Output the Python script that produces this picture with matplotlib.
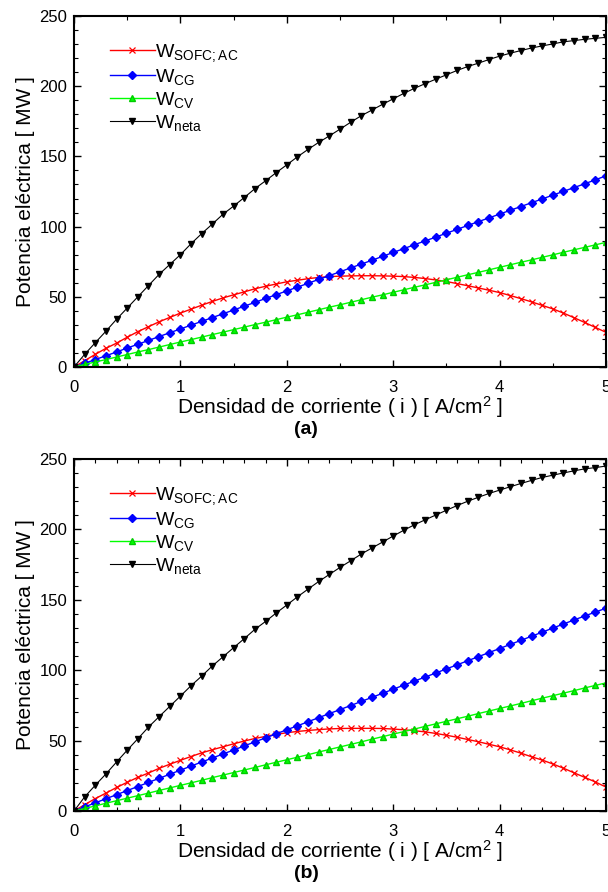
import numpy as np
import matplotlib
matplotlib.use("Agg")
import matplotlib.pyplot as plt
from matplotlib.ticker import MultipleLocator

plt.rcParams['font.family'] = ['Liberation Sans', 'DejaVu Sans']

# densidad de corriente [A/cm2], paso 0.1
i_dens = np.round(np.arange(0, 51) * 0.1, 1)

# ---- panel (a) ----
w_sofc_a = [0, 4.5, 9, 13.3, 17, 21.2, 25.2, 28.7, 32.2, 35.3,
            38.4, 41.2, 44, 46.7, 49.2, 51.4, 53.5, 55.7, 57.5, 59.1,
            60.7, 61.8, 62.9, 63.8, 64.4, 64.7, 64.9, 65, 65, 64.9,
            64.7, 64.4, 63.8, 63, 62, 60.9, 59.4, 57.9, 56.3, 54.7,
            53, 50.9, 48.7, 46.4, 43.9, 41.4, 38.4, 35.1, 31.7, 28.2, 24.7]
w_cg_a = [0, 2.6, 5.3, 8, 10.7, 13.5, 16.2, 18.9, 21.7, 24.4,
          27.1, 29.8, 32.5, 35.2, 37.9, 40.6, 43.3, 46, 48.8, 51.5,
          54.2, 56.9, 59.6, 62.4, 65.1, 67.8, 70.6, 73.3, 76, 78.8,
          81.6, 84.3, 87.1, 89.8, 92.5, 95.3, 98, 100.8, 103.5, 106.2,
          108.9, 111.6, 114.3, 117, 119.7, 122.4, 125.1, 127.8, 130.5, 133.3, 136.2]
w_cv_a = [0, 1.8, 3.6, 5.3, 7.1, 8.9, 10.7, 12.4, 14.2, 16,
          17.8, 19.5, 21.3, 23.1, 24.8, 26.6, 28.4, 30.2, 31.9, 33.7,
          35.5, 37.2, 39, 40.8, 42.6, 44.3, 46.1, 47.9, 49.7, 51.4,
          53.2, 55, 56.8, 58.5, 60.3, 62.1, 63.9, 65.7, 67.4, 69.2,
          71, 72.8, 74.6, 76.3, 78.1, 79.9, 81.7, 83.5, 85.2, 87, 88.8]
w_neta_a = [0, 9, 17.3, 25.5, 34, 42, 50, 58, 66, 73,
            80, 87.8, 95, 101.8, 108.8, 114.6, 120.7, 127, 132.6, 138.4,
            144, 149.7, 155, 160, 164.6, 169.4, 174.3, 179, 183, 187.1,
            191, 194.9, 198.5, 201.8, 205, 208.1, 211.2, 214, 216.4, 219,
            221.4, 223.5, 225.4, 227.2, 228.7, 230.1, 231.6, 232.5, 233.4, 234.1, 234.8]

# ---- panel (b) ----
w_sofc_b = [0, 4.5, 8.8, 12.7, 16.7, 20.4, 23.9, 27, 30.3, 33.2,
            36, 38.7, 41.3, 43.5, 45.6, 47.7, 49.7, 51.5, 53, 54.4,
            55.6, 56.5, 57.2, 57.8, 58.3, 58.6, 58.7, 58.7, 58.7, 58.6,
            58.2, 57.7, 57, 56.2, 55.1, 53.8, 52.4, 50.8, 49.2, 47.4,
            45.6, 43.4, 41.1, 38.5, 36.2, 33.4, 30.4, 27.1, 23.9, 20.6, 17]
w_cg_b = [0, 2.9, 5.8, 8.7, 11.6, 14.5, 17.4, 20.3, 23.2, 26.1,
          29, 31.9, 34.8, 37.6, 40.5, 43.3, 46.2, 49.1, 51.9, 54.8,
          57.7, 60.5, 63.4, 66.3, 69.2, 72, 74.9, 77.8, 80.7, 83.6,
          86.5, 89.4, 92.3, 95.1, 98, 100.9, 103.8, 106.7, 109.6, 112.5,
          115.4, 118.3, 121.2, 124.1, 127, 129.9, 132.8, 135.7, 138.5, 141.3, 144]
w_cv_b = [0, 1.8, 3.6, 5.5, 7.3, 9.1, 10.9, 12.7, 14.6, 16.4,
          18.2, 20, 21.8, 23.7, 25.5, 27.3, 29.1, 30.9, 32.8, 34.6,
          36.4, 38.2, 40, 41.9, 43.7, 45.5, 47.3, 49.1, 51, 52.8,
          54.6, 56.4, 58.2, 60.1, 61.9, 63.7, 65.5, 67.3, 69.2, 71,
          72.8, 74.6, 76.4, 78.3, 80.1, 81.9, 83.7, 85.5, 87.4, 89.2, 91]
w_neta_b = [0, 10, 18.3, 26.3, 34.8, 43.2, 51.3, 59.6, 67, 74.3,
            81.6, 89, 95.8, 103, 109.5, 116, 122.4, 129, 134.6, 140.6,
            146.3, 152.1, 157.6, 163, 168, 173, 177.7, 182.5, 186.8, 191,
            195.3, 199.4, 203.3, 206.8, 210.2, 213.6, 216.9, 220, 222.8, 225.5,
            227.9, 230.3, 232.6, 234.8, 236.9, 238.5, 240.1, 241.6, 243, 243.9, 245]

labels = [r'W$\mathregular{_{SOFC{;}AC}}$', r'W$\mathregular{_{CG}}$',
          r'W$\mathregular{_{CV}}$', r'W$\mathregular{_{neta}}$']


def draw_panel(ax, series, x_minor, tag, tag_y):
    ax.plot(i_dens, series[0], color='#ff0000', marker='x', ms=5, mew=0.9, lw=1, label=labels[0])
    ax.plot(i_dens, series[1], color='#0000ff', marker='D', ms=4.5, lw=1, label=labels[1])
    ax.plot(i_dens, series[2], color='#00ff00', marker='^', ms=5, mec='#00cc00', lw=1, label=labels[2])
    ax.plot(i_dens, series[3], color='black', marker='v', ms=5, lw=0.8, label=labels[3])

    ax.set_xlim(0, 5)
    ax.set_ylim(0, 250)
    ax.xaxis.set_major_locator(MultipleLocator(1))
    ax.xaxis.set_minor_locator(MultipleLocator(x_minor))
    ax.yaxis.set_major_locator(MultipleLocator(50))
    ax.yaxis.set_minor_locator(MultipleLocator(10))
    ax.tick_params(which='both', direction='in', top=True, right=True, labelsize=12)
    ax.tick_params(axis='x', pad=9)
    ax.tick_params(axis='y', pad=5)
    ax.tick_params(which='major', length=5, width=1)
    ax.tick_params(which='minor', length=3, width=0.8)
    for s in ax.spines.values():
        s.set_linewidth(1.5)

    ax.set_xlabel(r'Densidad de corriente ( i ) [ A/cm$\mathregular{^2}$ ]', fontsize=15, labelpad=0)
    ax.set_ylabel('Potencia eléctrica [ MW ]', fontsize=15, labelpad=3)
    fig.text(306 / 608, tag_y, tag, ha='center', va='top', fontsize=14, fontweight='bold')

    ax.legend(loc='upper left', bbox_to_anchor=(0.053, 0.948), frameon=False,
              fontsize=14, handlelength=2.3, handletextpad=0.0, labelspacing=0.15,
              borderaxespad=0)


fig = plt.figure(figsize=(6.08, 8.92), dpi=100)
ax_a = fig.add_axes([74 / 608, 1 - 367 / 892, 532 / 608, 351 / 892])
ax_b = fig.add_axes([74 / 608, 1 - 811 / 892, 532 / 608, 352 / 892])

draw_panel(ax_a, [w_sofc_a, w_cg_a, w_cv_a, w_neta_a], 0.5, '(a)', 1 - 421 / 892)
draw_panel(ax_b, [w_sofc_b, w_cg_b, w_cv_b, w_neta_b], 0.2, '(b)', 1 - 865 / 892)

fig.savefig('out.png', dpi=100)
